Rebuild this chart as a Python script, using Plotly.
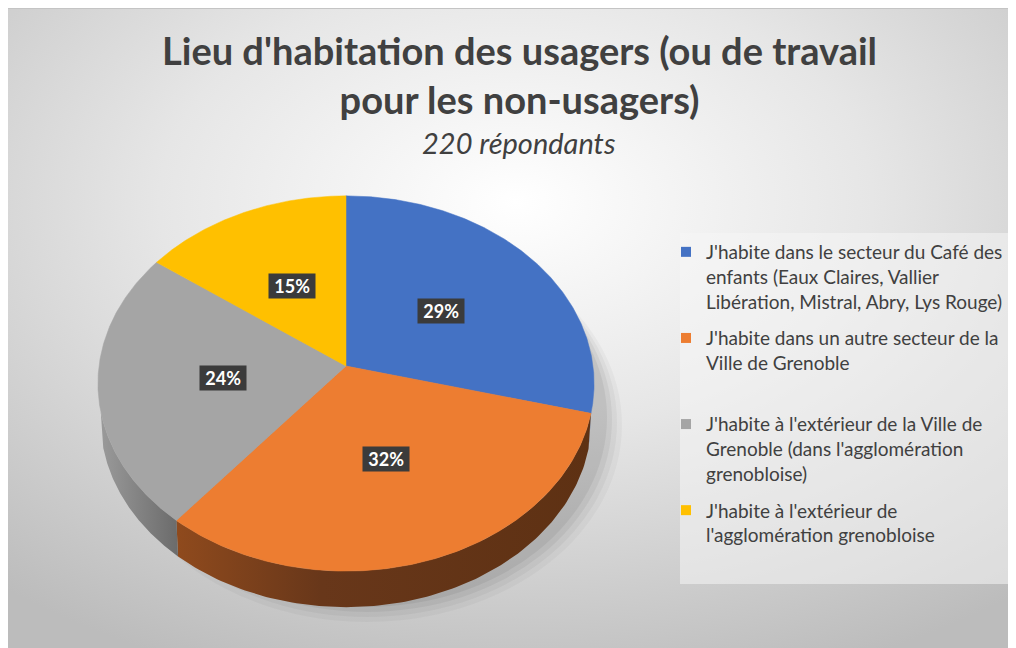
import base64
import numpy as np
import plotly.graph_objects as go

# ---------------- data ----------------
categories = [
    "J'habite dans le secteur du Café des<br>enfants (Eaux Claires, Vallier<br>Libération, Mistral, Abry, Lys Rouge)",
    "J'habite dans un autre secteur de la<br>Ville de Grenoble<br> ",
    "J'habite à l'extérieur de la Ville de<br>Grenoble (dans l'agglomération<br>grenobloise)",
    "J'habite à l'extérieur de<br>l'agglomération grenobloise",
]
values = [29, 32, 24, 15]
title_text = "Lieu d'habitation des usagers (ou de travail<br>pour les non-usagers)"
subtitle_text = "220 répondants"

# ---------------- styles ----------------
top_colors = ["#4472C4", "#ED7D31", "#A5A5A5", "#FFC000"]
side_scales = [
    [[0, "#2f5597"], [1, "#23437a"]],
    [[0, "#8f4a1d"], [0.35, "#68371a"], [1, "#5e3113"]],
    [[0, "#9a9a9a"], [1, "#6b6b6b"]],
    [[0, "#bf9000"], [1, "#9a7400"]],
]
W, H = 1016, 648
CX, CY, RX, RY, S, DEPTH = 338, 358, 247, 186, 0.0933, 36
FRONT = (104.0, 256.0)   # visible part of the rim (angles clockwise from top)


def proj(phi_deg, r):
    phi = np.radians(phi_deg)
    u = r * np.sin(phi)
    v = -r * np.cos(phi)
    den = 1 - S * v
    return CX + RX * u / den, CY + RY * v / den


total = float(sum(values))
cum = np.concatenate([[0.0], np.cumsum(values)]) / total * 360.0

fig = go.Figure()

# side walls (front part only)
for i in range(len(values)):
    a0, a1 = cum[i], cum[i + 1]
    s0, s1 = max(a0, FRONT[0]), min(a1, FRONT[1])
    if s1 > s0:
        ph = np.linspace(s0, s1, 120)
        xt, yt = proj(ph, 1.0)
        xb = CX + (xt - CX) * 0.99
        xs = np.concatenate([xt, xb[::-1]])
        ys = np.concatenate([yt, (yt + DEPTH)[::-1]])
        fig.add_trace(go.Scatter(
            x=xs, y=ys, mode="lines", fill="toself",
            line=dict(width=0, color=top_colors[i]),
            fillgradient=dict(type="horizontal", colorscale=side_scales[i]),
            showlegend=False, hoverinfo="skip"))

# top faces
for i in range(len(values)):
    a0, a1 = cum[i], cum[i + 1]
    ph = np.linspace(a0, a1, 200)
    xt, yt = proj(ph, 1.0)
    xs = np.concatenate([[CX], xt, [CX]])
    ys = np.concatenate([[CY], yt, [CY]])
    fig.add_trace(go.Scatter(
        x=xs, y=ys, mode="lines", fill="toself",
        fillcolor=top_colors[i], line=dict(width=0.5, color=top_colors[i]),
        showlegend=False, hoverinfo="skip"))

# legend entries
for i in range(len(values)):
    fig.add_trace(go.Scatter(
        x=[None], y=[None], mode="markers", name=categories[i],
        marker=dict(symbol="square", size=10, color=top_colors[i]),
        legendgroup=str(i), showlegend=True, hoverinfo="skip"))

# data labels
annotations = []
for i, v in enumerate(values):
    mid = (cum[i] + cum[i + 1]) / 2
    lx, ly = proj(mid, 0.5)
    annotations.append(dict(
        x=float(lx), y=float(ly), xref="x", yref="y", showarrow=False,
        text="\u00a0" + f"{round(v / total * 100)}%" + "\u00a0",
        font=dict(family="Lato", size=18, color="white", weight="bold"),
        bgcolor="#3b3b3b", borderpad=1))

annotations.append(dict(
    x=511, y=66, xref="x", yref="y", showarrow=False, text="<b>" + title_text + "</b>",
    font=dict(family="Lato", size=38, color="#404040")))
annotations.append(dict(
    x=511, y=134, xref="x", yref="y", showarrow=False, text="<i>" + subtitle_text + "</i>",
    font=dict(family="Lato", size=29, color="#404040")))

# soft shadow under the pie + legend background box
shapes = []
for k, a in enumerate([0.03, 0.04, 0.05, 0.06]):
    shapes.append(dict(type="circle", xref="x", yref="y", layer="below",
                       x0=104 + 5 * k, x1=614 - 5 * k, y0=220, y1=614 - 5 * k,
                       fillcolor=f"rgba(0,0,0,{a})", line=dict(width=0)))
shapes.append(dict(type="rect", xref="x", yref="y", layer="below",
                   x0=672, x1=1006, y0=225, y1=576,
                   fillcolor="rgba(245,245,245,0.55)", line=dict(width=0)))

svg = f'''<svg xmlns="http://www.w3.org/2000/svg" width="{W}" height="{H}" viewBox="0 0 {W} {H}">
<defs><radialGradient id="g" cx="50%" cy="30%" r="78%">
<stop offset="0" stop-color="#ffffff"/><stop offset="0.45" stop-color="#e6e6e6"/><stop offset="1" stop-color="#bcbcbc"/>
</radialGradient></defs>
<rect width="{W}" height="{H}" fill="url(#g)"/>
<line x1="0" y1="0.5" x2="{W}" y2="0.5" stroke="#c4c4c4" stroke-width="1"/>
</svg>'''
src = "data:image/svg+xml;base64," + base64.b64encode(svg.encode("utf-8")).decode("ascii")

fig.update_layout(
    width=W, height=H, margin=dict(l=0, r=0, t=0, b=0),
    paper_bgcolor="white", plot_bgcolor="rgba(0,0,0,0)",
    xaxis=dict(range=[0, W], visible=False, fixedrange=True),
    yaxis=dict(range=[H, 0], visible=False, fixedrange=True),
    images=[dict(source=src, xref="paper", yref="paper", x=0, y=1, sizex=1, sizey=1,
                 sizing="stretch", xanchor="left", yanchor="top", layer="below")],
    shapes=shapes,
    annotations=annotations,
    legend=dict(x=658 / W, y=1 - 225 / H, xanchor="left", yanchor="top",
                bgcolor="rgba(0,0,0,0)", font=dict(family="Lato", size=19, color="#404040"),
                tracegroupgap=9, valign="top", itemclick=False, itemdoubleclick=False),
    showlegend=True,
)

fig.write_html("out.html")
